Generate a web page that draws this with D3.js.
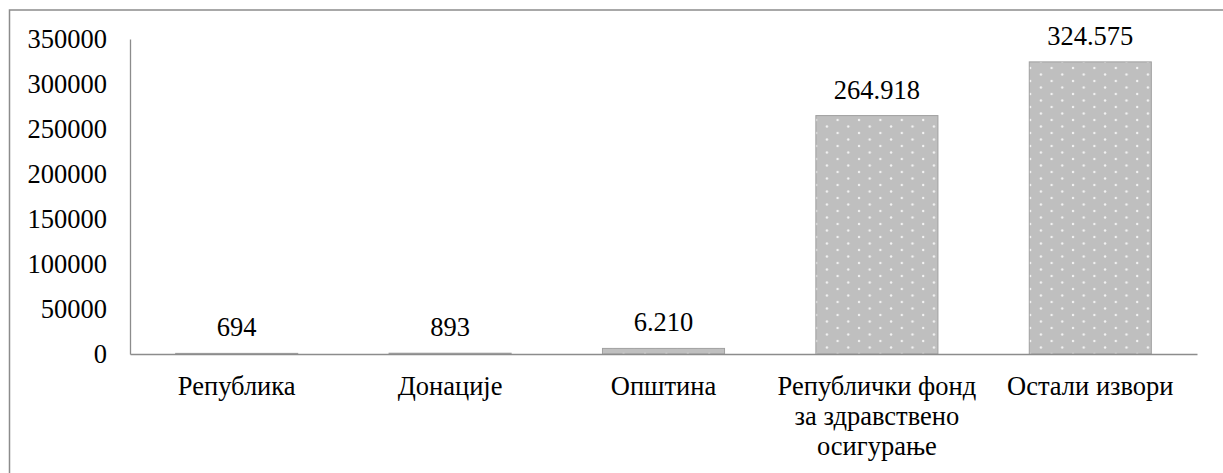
<!DOCTYPE html>
<meta charset="utf-8">
<script src="https://d3js.org/d3.v7.min.js"></script>
<style>
  body { margin: 0; background: #fff; }
</style>
<div id="chart"></div>
<script>
  // data
  var categories = ["Република", "Донације", "Општина", "Републички фонд за здравствено осигурање", "Остали извори"];
  var values = [694, 893, 6210, 264918, 324575];
  var yTicks = [0, 50000, 100000, 150000, 200000, 250000, 300000, 350000];

  var W = 1223, H = 473;
  var x0 = 130, x1 = 1197, yBase = 354, yTop = 39;
  var serif = "'Liberation Serif', 'Times New Roman', serif";

  var svg = d3.select("#chart").append("svg")
    .attr("width", W)
    .attr("height", H)
    .style("font-family", serif);

  // dotted fill like the office chart
  var pw = 21.4, ph = 13;
  var pat = svg.append("defs").append("pattern")
    .attr("id", "dots")
    .attr("patternUnits", "userSpaceOnUse")
    .attr("width", pw)
    .attr("height", ph);
  pat.append("rect").attr("width", pw).attr("height", ph).attr("fill", "#bfbfbf");
  pat.append("circle").attr("cx", 3).attr("cy", 3).attr("r", 1.2).attr("fill", "#f2f2f2");
  pat.append("circle").attr("cx", 3 + pw / 2).attr("cy", 3 + ph / 2).attr("r", 1.2).attr("fill", "#f2f2f2");

  // outer frame (runs off the right and bottom edge)
  svg.append("rect")
    .attr("x", 9.5).attr("y", 10)
    .attr("width", W + 20).attr("height", H + 20)
    .attr("fill", "none")
    .attr("stroke", "#8c8c8c")
    .attr("stroke-width", 1.5);

  var x = d3.scaleBand()
    .domain(categories)
    .range([x0, x1])
    .paddingInner(0.428)
    .paddingOuter(0.214);

  var y = d3.scaleLinear()
    .domain([0, 350000])
    .range([yBase, yTop]);

  // y axis
  var yAxis = svg.append("g")
    .attr("transform", "translate(" + x0 + ",0)")
    .call(d3.axisLeft(y).tickValues(yTicks).tickSize(0).tickPadding(23).tickFormat(d3.format("d")));
  yAxis.attr("font-family", null).attr("font-size", null);
  yAxis.select(".domain").attr("stroke", "#8c8c8c").attr("stroke-width", 1.3);
  yAxis.selectAll("text")
    .style("font-family", serif)
    .style("font-size", "26.5px")
    .attr("fill", "#000");

  // bars
  svg.selectAll(".bar")
    .data(values)
    .enter().append("rect")
    .attr("class", "bar")
    .attr("x", function (d, i) { return x(categories[i]); })
    .attr("width", x.bandwidth())
    .attr("y", function (d) { return y(d); })
    .attr("height", function (d) { return yBase - y(d); })
    .attr("fill", "url(#dots)")
    .attr("stroke", "#a0a0a0")
    .attr("stroke-width", 1);

  // x axis (baseline only, labels drawn below)
  var xAxis = svg.append("g")
    .attr("transform", "translate(0," + yBase + ")")
    .call(d3.axisBottom(x).tickSize(0).tickPadding(0));
  xAxis.select(".domain").attr("stroke", "#8c8c8c").attr("stroke-width", 1.3);
  xAxis.selectAll("text").remove();

  var loc = d3.formatLocale({ decimal: ",", thousands: ".", grouping: [3], currency: ["", ""] });
  var fmt = loc.format(",d");

  // value labels
  svg.selectAll(".val")
    .data(values)
    .enter().append("text")
    .attr("class", "val")
    .attr("x", function (d, i) { return x(categories[i]) + x.bandwidth() / 2; })
    .attr("y", function (d) { return y(d) - 17; })
    .attr("text-anchor", "middle")
    .style("font-family", serif)
    .style("font-size", "26.5px")
    .text(function (d) { return fmt(d); });

  // category labels, wrapped to the band width
  var maxW = 210;
  categories.forEach(function (c) {
    var t = svg.append("text")
      .attr("text-anchor", "middle")
      .style("font-family", serif)
      .style("font-size", "26.5px");
    var cx = x(c) + x.bandwidth() / 2;
    var words = c.split(" "), line = [], lines = [];
    words.forEach(function (w) {
      line.push(w);
      t.text(line.join(" "));
      if (t.node().getComputedTextLength() > maxW && line.length > 1) {
        line.pop();
        lines.push(line.join(" "));
        line = [w];
      }
    });
    lines.push(line.join(" "));
    t.text(null);
    lines.forEach(function (l, i) {
      t.append("tspan")
        .attr("x", cx)
        .attr("y", 395 + i * 30)
        .text(l);
    });
  });
</script>
